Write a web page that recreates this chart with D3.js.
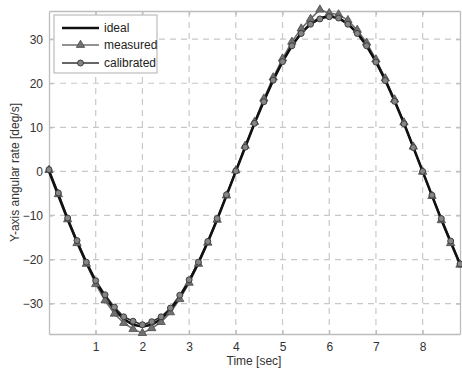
<!DOCTYPE html>
<html>
<head>
<meta charset="utf-8">
<script src="https://cdn.jsdelivr.net/npm/d3@7/dist/d3.min.js"></script>
<style>
  html, body { margin: 0; padding: 0; background: #fff; }
  svg { display: block; font-family: "Liberation Sans", Arial, Helvetica, sans-serif; }
</style>
</head>
<body>
<svg id="chart" width="462" height="371"></svg>
<script>
// Sample times [sec], every 0.2 s
const times = [0.0, 0.2, 0.4, 0.6, 0.8, 1.0, 1.2, 1.4, 1.6, 1.8,
  2.0, 2.2, 2.4, 2.6, 2.8, 3.0, 3.2, 3.4, 3.6, 3.8,
  4.0, 4.2, 4.4, 4.6, 4.8, 5.0, 5.2, 5.4, 5.6, 5.8,
  6.0, 6.2, 6.4, 6.6, 6.8, 7.0, 7.2, 7.4, 7.6, 7.8,
  8.0, 8.2, 8.4, 8.6, 8.8];

// Y-axis angular rate [deg/s]
const ideal = [0.0, -5.5, -10.9, -16.0, -20.7, -24.9, -28.5, -31.4, -33.5, -34.8,
  -35.2, -34.8, -33.5, -31.4, -28.5, -24.9, -20.7, -16.0, -10.9, -5.5,
  0.0, 5.5, 10.9, 16.0, 20.7, 24.9, 28.5, 31.4, 33.5, 34.8,
  35.2, 34.8, 33.5, 31.4, 28.5, 24.9, 20.7, 16.0, 10.9, 5.5,
  0.0, -5.5, -10.9, -16.0, -21.0];

const measured = [0.3, -5.2, -10.9, -16.3, -21.0, -25.6, -29.3, -32.3, -34.4, -35.8,
  -36.7, -35.6, -34.2, -32.0, -29.0, -25.3, -21.0, -16.2, -11.0, -5.5,
  0.2, 5.8, 11.2, 16.5, 21.3, 25.6, 29.4, 32.4, 34.6, 36.7,
  35.9, 35.6, 34.3, 32.1, 29.2, 25.4, 21.1, 16.3, 11.1, 5.6,
  -0.1, -5.6, -11.1, -16.3, -21.2];

const calibrated = [0.4, -4.9, -10.6, -15.7, -20.6, -24.8, -28.0, -30.8, -33.0, -34.0,
  -34.8, -34.1, -33.0, -31.0, -28.1, -24.6, -20.6, -15.9, -10.7, -5.3,
  0.1, 5.5, 10.9, 15.8, 20.7, 24.9, 28.5, 31.3, 33.4, 34.6,
  35.1, 34.8, 33.4, 31.3, 28.5, 24.8, 20.6, 15.9, 10.8, 5.4,
  0.0, -5.4, -10.7, -15.8, -21.0];

const xTicks = [1, 2, 3, 4, 5, 6, 7, 8];
const yTicks = [-30, -20, -10, 0, 10, 20, 30];
const seriesNames = ["ideal", "measured", "calibrated"];

const svg = d3.select("#chart");
const margin = { left: 49, right: 2, top: 11, bottom: 37 };
const W = 462, H = 371;

const x = d3.scaleLinear().domain([0, 8.8]).range([margin.left, W - margin.right]);
const y = d3.scaleLinear().domain([-36.9, 36.4]).range([H - margin.bottom, margin.top]);

const gridColor = "#c8c8c8";
const frameColor = "#bdbdbd";
const fontFam = "'Liberation Sans', Arial, sans-serif";

// dashed grid
svg.append("g").selectAll("line").data(xTicks).join("line")
  .attr("x1", d => x(d)).attr("x2", d => x(d))
  .attr("y1", y.range()[1]).attr("y2", y.range()[0])
  .attr("stroke", gridColor).attr("stroke-width", 1.2).attr("stroke-dasharray", "6,5");
svg.append("g").selectAll("line").data(yTicks).join("line")
  .attr("x1", x.range()[0]).attr("x2", x.range()[1])
  .attr("y1", d => y(d)).attr("y2", d => y(d))
  .attr("stroke", gridColor).attr("stroke-width", 1.2).attr("stroke-dasharray", "6,5");

// axes with inward ticks on all four sides
const xAxis = d3.axisBottom(x).tickValues(xTicks).tickSizeInner(-4).tickSizeOuter(0).tickPadding(8).tickFormat(d3.format("d"));
const yAxis = d3.axisLeft(y).tickValues(yTicks).tickSizeInner(-4).tickSizeOuter(0).tickPadding(6).tickFormat(d3.format("d"));

const gx = svg.append("g").attr("transform", `translate(0,${y.range()[0]})`).call(xAxis);
const gy = svg.append("g").attr("transform", `translate(${x.range()[0]},0)`).call(yAxis);
const gxt = svg.append("g").attr("transform", `translate(0,${y.range()[1]})`)
  .call(d3.axisTop(x).tickValues(xTicks).tickSizeInner(-4).tickSizeOuter(0).tickFormat(""));
const gyr = svg.append("g").attr("transform", `translate(${x.range()[1]},0)`)
  .call(d3.axisRight(y).tickValues(yTicks).tickSizeInner(-4).tickSizeOuter(0).tickFormat(""));

[gx, gy, gxt, gyr].forEach(g => {
  g.select(".domain").attr("stroke", frameColor).attr("stroke-width", 1.3);
  g.selectAll(".tick line").attr("stroke", frameColor).attr("stroke-width", 1.2);
  g.selectAll(".tick text").attr("fill", "#333").attr("font-size", 12)
    .attr("font-family", fontFam);
});

// axis titles
svg.append("text").attr("x", 254).attr("y", 365).attr("text-anchor", "middle")
  .attr("font-size", 12).attr("fill", "#333").text("Time [sec]");
svg.append("text").attr("transform", `translate(19,${(y.range()[0] + y.range()[1]) / 2}) rotate(-90)`)
  .attr("text-anchor", "middle").attr("font-size", 12).attr("fill", "#333")
  .text("Y-axis angular rate [deg/s]");

// series
const plot = svg.append("g");
const line = vals => d3.line().x((d, i) => x(times[i])).y(d => y(d))(vals);

plot.append("path").attr("d", line(measured)).attr("fill", "none")
  .attr("stroke", "#6e6e6e").attr("stroke-width", 1.6);
plot.append("path").attr("d", line(calibrated)).attr("fill", "none")
  .attr("stroke", "#333").attr("stroke-width", 1.6);
plot.append("path").attr("d", line(ideal)).attr("fill", "none")
  .attr("stroke", "#111").attr("stroke-width", 2.6);

const tri = d3.symbol().type(d3.symbolTriangle).size(30);
plot.append("g").selectAll("path").data(measured).join("path")
  .attr("d", tri)
  .attr("transform", (d, i) => `translate(${x(times[i])},${y(d)})`)
  .attr("fill", "#707070").attr("stroke", "#4a4a4a").attr("stroke-width", 0.8);

plot.append("g").selectAll("circle").data(calibrated).join("circle")
  .attr("cx", (d, i) => x(times[i])).attr("cy", d => y(d)).attr("r", 3)
  .attr("fill", "#858585").attr("stroke", "#333").attr("stroke-width", 0.9);

// legend
const lg = svg.append("g");
lg.append("rect").attr("x", 54).attr("y", 15).attr("width", 103).attr("height", 58)
  .attr("fill", "#fff").attr("stroke", frameColor).attr("stroke-width", 1.2);
const rows = [28, 45, 63];
seriesNames.forEach((name, i) => {
  const yy = rows[i];
  const col = i === 0 ? "#111" : (i === 1 ? "#6e6e6e" : "#333");
  lg.append("line").attr("x1", 62).attr("x2", 99).attr("y1", yy).attr("y2", yy)
    .attr("stroke", col).attr("stroke-width", i === 0 ? 2.6 : 1.6);
  if (i === 1) {
    lg.append("path").attr("d", tri).attr("transform", `translate(80.5,${yy})`)
      .attr("fill", "#707070").attr("stroke", "#4a4a4a").attr("stroke-width", 0.8);
  }
  if (i === 2) {
    lg.append("circle").attr("cx", 80.5).attr("cy", yy).attr("r", 3)
      .attr("fill", "#858585").attr("stroke", "#333").attr("stroke-width", 0.9);
  }
  lg.append("text").attr("x", 104).attr("y", yy + 4).attr("font-size", 12)
    .attr("fill", "#222").text(name);
});
</script>
</body>
</html>
